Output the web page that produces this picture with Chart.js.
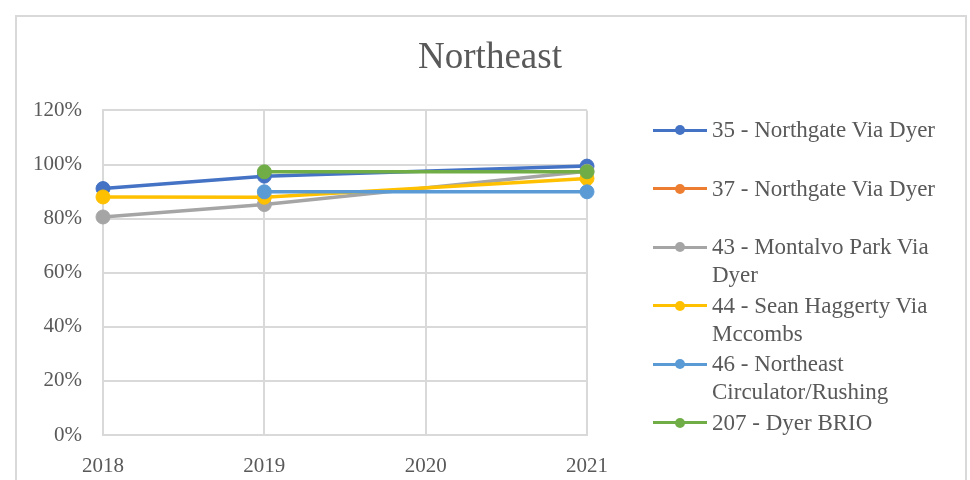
<!DOCTYPE html>
<html>
<head>
<meta charset="utf-8">
<script src="https://cdn.jsdelivr.net/npm/chart.js@4.4.0/dist/chart.umd.min.js"></script>
<style>
  body { margin: 0; background: #fff; }
  #wrap { position: relative; width: 970px; height: 480px; overflow: hidden; }
  #frame { position: absolute; left: 15px; top: 15px; width: 948px; height: 500px; border: 2px solid #d9d9d9; }
  #chart { position: absolute; left: 0; top: 0; }
  #legend { position: absolute; left: 653px; top: 116px; font-family: "Liberation Serif", serif; font-size: 23px; color: #595959; }
  .item { position: relative; height: 58.5px; padding-left: 59px; width: 250px; line-height: 28px; }
  .item .ln { position: absolute; left: 0; top: 12.5px; width: 54px; height: 3px; }
  .item .dot { position: absolute; left: 22px; top: 9px; width: 10px; height: 10px; border-radius: 50%; }
</style>
</head>
<body>
<div id="wrap">
  <div id="frame"></div>
  <canvas id="chart" width="970" height="480"></canvas>
  <div id="legend"></div>
</div>
<script>
// categories
const years = ['2018', '2019', '2020', '2021'];

// series values (%), null = no value that year
const route35 = [91.1, 95.7, null, 99.4];
const route37 = [null, null, null, null];
const route43 = [80.6, 85.2, null, 97.5];
const route44 = [88.0, 87.9, null, 94.8];
const route46 = [null, 89.9, null, 89.9];
const route207 = [null, 97.3, null, 97.3];

const seriesNames = [
    '35 - Northgate Via Dyer',
    '37 - Northgate Via Dyer',
    '43 - Montalvo Park Via Dyer',
    '44 - Sean Haggerty Via Mccombs',
    '46 - Northeast Circulator/Rushing',
    '207 - Dyer BRIO'
];
const seriesColors = ['#4472C4', '#ED7D31', '#A5A5A5', '#FFC000', '#5B9BD5', '#70AD47'];
const seriesValues = [route35, route37, route43, route44, route46, route207];

// y ticks
const yMin = 0, yMax = 120, yStep = 20;

const fontFamily = '"Liberation Serif", serif';
const textColor = '#595959';
const gridColor = '#d9d9d9';

const datasets = seriesValues.map((vals, i) => ({
    label: seriesNames[i],
    data: vals,
    borderColor: seriesColors[i],
    backgroundColor: seriesColors[i],
    pointBackgroundColor: seriesColors[i],
    pointBorderColor: seriesColors[i],
    borderWidth: 3.5,
    pointRadius: 7,
    pointBorderWidth: 1,
    spanGaps: true,
    tension: 0,
    fill: false,
    order: seriesValues.length - i   // later series drawn on top
}));

new Chart(document.getElementById('chart'), {
    type: 'line',
    data: { labels: years, datasets: datasets },
    options: {
        responsive: false,
        animation: false,
        layout: { padding: { left: 15, right: 5, top: 15, bottom: 0 } },
        plugins: {
            legend: { display: false },
            tooltip: { enabled: false },
            title: {
                display: true,
                text: 'Northeast',
                color: textColor,
                font: { family: fontFamily, size: 37, weight: 'normal' },
                padding: { top: 21, bottom: 30 }
            }
        },
        scales: {
            x: {
                offset: false,
                grid: { color: gridColor, lineWidth: 2, drawTicks: false },
                border: { color: gridColor, width: 2 },
                ticks: { color: textColor, font: { family: fontFamily, size: 21 }, padding: 19, maxRotation: 0 },
                afterFit: s => { s.height = 45; }
            },
            y: {
                min: yMin, max: yMax,
                grid: { color: gridColor, lineWidth: 2, drawTicks: false },
                border: { color: gridColor, width: 2 },
                ticks: {
                    stepSize: yStep,
                    color: textColor,
                    font: { family: fontFamily, size: 21 },
                    padding: 21,
                    callback: v => v + '%'
                },
                afterFit: s => { s.width = 88; }
            },
            // empty right-hand axis that reserves space for the legend
            y2: {
                position: 'right',
                min: 0, max: 1,
                grid: { drawOnChartArea: false, drawTicks: false },
                border: { display: false },
                ticks: { display: false },
                afterFit: s => { s.width = 378; }
            }
        }
    }
});

// legend (wrapping labels like the original)
const legendEl = document.getElementById('legend');
seriesNames.forEach((name, i) => {
    const item = document.createElement('div');
    item.className = 'item';
    const ln = document.createElement('span');
    ln.className = 'ln';
    ln.style.background = seriesColors[i];
    const dot = document.createElement('span');
    dot.className = 'dot';
    dot.style.background = seriesColors[i];
    item.appendChild(ln);
    item.appendChild(dot);
    item.appendChild(document.createTextNode(name));
    legendEl.appendChild(item);
});
</script>
</body>
</html>
